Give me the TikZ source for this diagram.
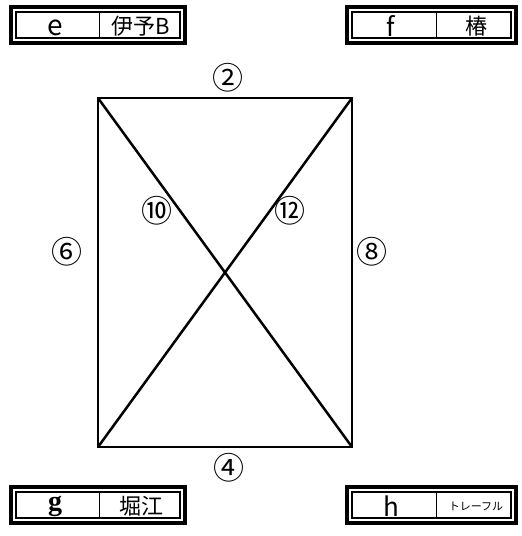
\documentclass[tikz,border=0pt]{standalone}
\usepackage{fontspec}
\setmainfont{Noto Sans CJK JP}
\newfontfamily\serifg{Liberation Serif}
\begin{document}
\begin{tikzpicture}[x=1pt,y=-1pt,
  outerf/.style={draw,line width=3.2pt},
  innerf/.style={draw,line width=1.5pt},
  divider/.style={draw,line width=0.9pt},
  edge/.style={line width=2.5pt},
  lbl/.style={font=\fontsize{31}{31}\selectfont,inner sep=0pt},
  big/.style={font=\fontsize{28}{28}\selectfont,inner sep=0pt,anchor=base},
  tall/.style={font=\fontsize{26}{26}\selectfont,inner sep=0pt,anchor=base},
  jp/.style={font=\fontsize{22}{22}\selectfont,inner sep=0pt,anchor=base},
  small/.style={font=\fontsize{11}{11}\selectfont,inner sep=0pt,anchor=base}]
\useasboundingbox (0,0) rectangle (522,536);
% labelled boxes
\newcommand{\mybox}[4]{%
  \draw[outerf] (#1,#2) rectangle ++(#3,36);
  \draw[innerf] (#1+5,#2+5) rectangle ++(#3-10,26);
  \draw[divider] (#1+#4,#2+5) -- ++(0,26);
}
\mybox{11}{7}{174}{88}
\node[big] (e) at (55,35) {e};
\node[jp] (eb) at (141,34) {伊予B};
\mybox{347}{7}{169}{89}
\node[tall] (f) at (391,36) {f};
\node[jp] (fb) at (476,34) {椿};
\mybox{11}{487}{174}{88}
\node[big,font=\serifg\bfseries\fontsize{28}{28}\selectfont] (g) at (55,510) {g};
\node[jp] (gb) at (141,514) {堀江};
\mybox{347}{487}{169}{89}
\node[tall] (h) at (391,516) {h};
\node[small] (hb) at (476,510) {トレーフル};
% rectangle
\coordinate (tl) at (98,98);
\coordinate (tr) at (352,98);
\coordinate (bl) at (98,447);
\coordinate (br) at (352,447);
\draw[edge,line join=miter] (tl) -- (tr) -- (br) -- (bl) -- cycle;
\draw[edge] (tl) -- (br);
\draw[edge] (tr) -- (bl);
% labels
\node[lbl] (n2) at (228,78) {②};
\node[lbl] (n4) at (229,468) {④};
\node[lbl] (n6) at (67,252) {⑥};
\node[lbl] (n8) at (372,252) {⑧};
\node[lbl] (n10) at (157,211) {⑩};
\node[lbl] (n12) at (290,211) {⑫};
\end{tikzpicture}
\end{document}
